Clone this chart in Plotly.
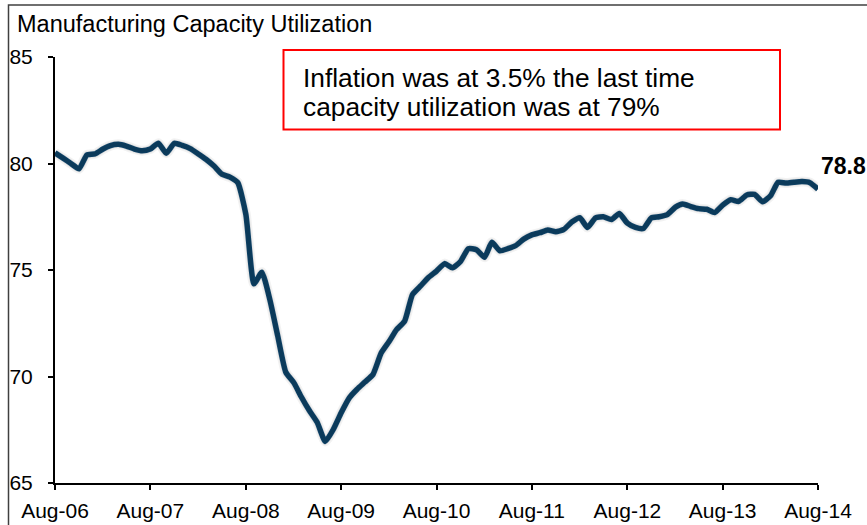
import pandas as pd
import plotly.graph_objects as go

# ---- data (monthly, Aug-06 .. Aug-14) ----
START_MONTH = "2006-08-01"
UTILIZATION = [
    80.5, 80.25, 80.0, 79.75, 80.4, 80.45, 80.68, 80.84, 80.9, 80.82,
    80.68, 80.6, 80.68, 80.95, 80.48, 80.95, 80.85, 80.7, 80.45, 80.2,
    79.88, 79.5, 79.36, 79.1, 77.6, 74.35, 74.9, 73.6, 71.9, 70.2,
    69.7, 69.05, 68.4, 67.85, 66.95, 67.5, 68.3, 69.0, 69.4, 69.75,
    70.1, 71.1, 71.65, 72.2, 72.6, 73.85, 74.25, 74.65, 74.95, 75.3,
    75.1, 75.4, 76.0, 75.95, 75.6, 76.3, 75.9, 76.0, 76.15, 76.45,
    76.65, 76.75, 76.88, 76.8, 76.9, 77.25, 77.45, 77.0, 77.45, 77.5,
    77.37, 77.65, 77.2, 77.0, 76.95, 77.45, 77.5, 77.6, 77.95, 78.1,
    77.98, 77.88, 77.85, 77.7, 78.05, 78.3, 78.22, 78.52, 78.55, 78.2,
    78.5, 79.12, 79.08, 79.12, 79.15, 79.1, 78.8,
]
MONTHS = pd.date_range(START_MONTH, periods=len(UTILIZATION), freq="MS")

TICK_DATES = ["2006-08-01", "2007-08-01", "2008-08-01", "2009-08-01", "2010-08-01",
              "2011-08-01", "2012-08-01", "2013-08-01", "2014-08-01"]
TICK_LABELS = ["Aug-06", "Aug-07", "Aug-08", "Aug-09", "Aug-10",
               "Aug-11", "Aug-12", "Aug-13", "Aug-14"]
Y_TICKS = [65, 70, 75, 80, 85]

TITLE = "Manufacturing Capacity Utilization"
NOTE_LINES = ["Inflation was at 3.5% the last time",
              "capacity utilization was at 79%"]

# ---- layout geometry (pixels) ----
W, H = 867, 525
L, T = 55, 57
PW, PH = 763, 426          # plot area of the main axes
SH = 3                     # shadow offset
R = W - L - PW - SH
B = H - T - PH - SH
TW, TH = PW + SH, PH + SH

FONT = "Liberation Sans, Arial, sans-serif"
LINE_COLOR = "#104c77"


def px_x(p):  # pixel x -> paper fraction
    return (p - L) / TW


def px_y(p):  # pixel y -> paper fraction
    return (T + TH - p) / TH


fig = go.Figure()

# soft shadow (same data, drawn on an overlay axis shifted a few px)
for w, a in [(10, 0.05), (7, 0.08), (4, 0.12)]:
    fig.add_trace(go.Scatter(
        x=MONTHS, y=UTILIZATION, mode="lines", xaxis="x2", yaxis="y2",
        line=dict(color=f"rgba(0,0,0,{a})", width=w, shape="spline", smoothing=0.5),
        hoverinfo="skip", showlegend=False))

fig.add_trace(go.Scatter(
    x=MONTHS, y=UTILIZATION, mode="lines",
    line=dict(color=LINE_COLOR, width=5.5, shape="spline", smoothing=0.5),
    showlegend=False))

xr = [TICK_DATES[0], TICK_DATES[-1]]
yr = [Y_TICKS[0], Y_TICKS[-1]]

fig.update_layout(
    width=W, height=H,
    margin=dict(l=L, r=R, t=T, b=B, pad=0, autoexpand=False),
    paper_bgcolor="white", plot_bgcolor="white",
    font=dict(family=FONT, size=21, color="black"),
    title=dict(text=TITLE, x=17 / W, xanchor="left", y=1 - 24 / H, yanchor="middle",
               font=dict(family=FONT, size=23.5, color="black")),
    xaxis=dict(
        type="date", range=xr, domain=[0, PW / TW],
        tickmode="array", tickvals=TICK_DATES, ticktext=TICK_LABELS,
        showgrid=False, zeroline=False,
        showline=True, linecolor="black", linewidth=2,
        ticks="outside", ticklen=5, tickwidth=2, tickcolor="black",
        ticklabelstandoff=3,
        tickfont=dict(family=FONT, size=21, color="black")),
    yaxis=dict(
        range=yr, domain=[SH / TH, 1],
        tickmode="array", tickvals=Y_TICKS,
        showgrid=False, zeroline=False,
        showline=True, linecolor="black", linewidth=2,
        ticks="outside", ticklen=5, tickwidth=2, tickcolor="black",
        ticklabelstandoff=11,
        tickfont=dict(family=FONT, size=21, color="black")),
    xaxis2=dict(type="date", range=xr, domain=[SH / TW, 1], overlaying="x",
                visible=False, anchor="y2"),
    yaxis2=dict(range=yr, domain=[0, PH / TH], overlaying="y",
                visible=False, anchor="x2"),
)

# note box with red border
fig.add_shape(type="rect", xref="paper", yref="paper",
              x0=px_x(283.5), x1=px_x(780), y0=px_y(129.5), y1=px_y(50),
              line=dict(color="#ff0000", width=2), fillcolor="white", layer="above")
for i, txt in enumerate(NOTE_LINES):
    fig.add_annotation(xref="paper", yref="paper", x=px_x(301), y=px_y(78 + 28.5 * i),
                       xanchor="left", yanchor="middle", text=txt, showarrow=False,
                       font=dict(family=FONT, size=26.3, color="black"))

# end-value label
fig.add_annotation(x=MONTHS[-1], y=UTILIZATION[-1], xref="x", yref="y",
                   text=f"<b>{UTILIZATION[-1]:.1f}</b>", showarrow=False,
                   xanchor="left", yanchor="middle", xshift=1, yshift=23,
                   font=dict(family=FONT, size=23, color="black"))

# outer frame
fig.add_shape(type="rect", xref="paper", yref="paper",
              x0=px_x(8.5), x1=px_x(W + 20), y0=px_y(H + 20), y1=px_y(5),
              line=dict(color="#404040", width=1.5), layer="above")

fig.write_html("out.html", config={"displayModeBar": False},
               post_script="document.body.style.margin='0';document.body.style.overflow='hidden';")
